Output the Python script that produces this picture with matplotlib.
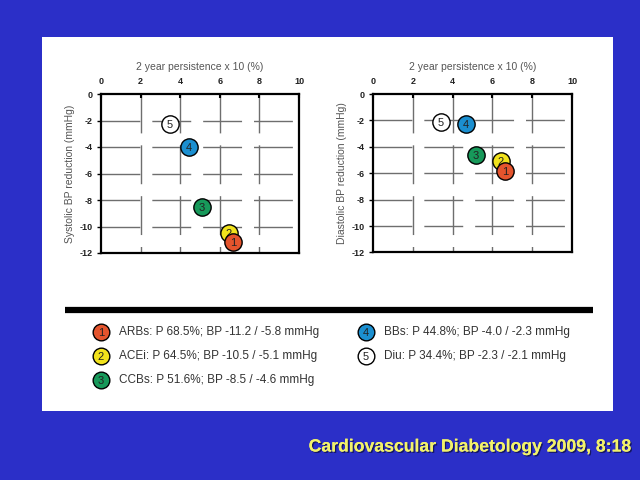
import matplotlib
matplotlib.use('Agg')
import matplotlib.pyplot as plt
from matplotlib.patches import Rectangle
from matplotlib.lines import Line2D
import matplotlib.patheffects as pe

plt.rcParams['font.family'] = ['Liberation Sans', 'DejaVu Sans']
plt.rcParams['lines.scale_dashes'] = False

# ---- data ----
numbers = ['1', '2', '3', '4', '5']
classes = ['ARBs', 'ACEi', 'CCBs', 'BBs', 'Diu']
persistence_pct = [68.5, 64.5, 51.6, 44.8, 34.4]
sbp = [-11.2, -10.5, -8.5, -4.0, -2.3]
dbp = [-5.8, -5.1, -4.6, -2.3, -2.1]
# plotted x positions (persistence x 10)
x_sys = [6.66, 6.46, 5.10, 4.43, 3.48]
x_dia = [6.63, 6.43, 5.18, 4.67, 3.42]
colors = ['#e4542d', '#f1e21c', '#17995a', '#1b8fd0', '#ffffff']
xticks = [0, 2, 4, 6, 8, 10]
yticks = [0, -2, -4, -6, -8, -10, -12]
grid_x = [2, 4, 6, 8]
grid_y = [-2, -4, -6, -8, -10]

W, H = 640, 480
fig = plt.figure(figsize=(6.4, 4.8), dpi=100, facecolor='#2b2fc8')

def fx(px):
    return px / W

def fy(py):
    return 1 - py / H

# white panel
fig.patches.append(Rectangle((fx(42), fy(411)), fx(613) - fx(42), fy(37) - fy(411),
                             transform=fig.transFigure, facecolor='white',
                             edgecolor='none', zorder=-5))

def make_axes(rect, xs, ys, ylabel):
    ax = fig.add_axes(rect)
    ax.set_zorder(2)
    ax.set_facecolor('white')
    for gx in grid_x:
        ax.plot([gx, gx], [0, -12], color='#6e6e6e', lw=1.0, dashes=(28, 8.6), zorder=1)
    for gy in grid_y:
        ax.plot([0, 10], [gy, gy], color='#6e6e6e', lw=1.0, dashes=(28, 8.6), zorder=1)
    n = len(xs)
    for i in range(n):
        z = 20 - 2 * i
        ax.scatter([xs[i]], [ys[i]], s=155, c=colors[i], edgecolors='black',
                   linewidths=1.0, zorder=z)
        ax.annotate(numbers[i], (xs[i], ys[i]), xytext=(0, -0.7), textcoords='offset points',
                    ha='center', va='center', fontsize=8, color='#222222', zorder=z + 0.5)
    ax.set_xlim(0, 10)
    ax.set_ylim(-12, 0)
    ax.xaxis.tick_top()
    ax.xaxis.set_label_position('top')
    ax.set_xticks(xticks)
    ax.set_xticklabels([str(t) for t in xticks], fontweight='bold', fontsize=6.5, color='#222222')
    ax.set_yticks(yticks)
    ax.set_yticklabels([str(t) for t in yticks], fontweight='bold', fontsize=6.5, color='#222222')
    ax.tick_params(axis='x', direction='in', length=3, width=1.5, pad=6)
    ax.tick_params(axis='y', direction='out', length=3, width=1.0, pad=3)
    ax.set_xlabel('2 year persistence x 10 (%)', fontsize=7.5, color='#555555', labelpad=5)
    ax.set_ylabel(ylabel, fontsize=7.5, color='#555555', labelpad=3)
    for s in ax.spines.values():
        s.set_linewidth(1.6)
        s.set_color('black')
    return ax

make_axes([fx(101), fy(253), fx(299) - fx(101), fy(94) - fy(253)], x_sys, sbp,
          'Systolic BP reduction (mmHg)')
make_axes([fx(373), fy(252.5), fx(572) - fx(373), fy(94) - fy(252.5)], x_dia, dbp,
          'Diastolic BP reduction (mmHg)')

# black separator bar
fig.add_artist(Line2D([fx(65), fx(593)], [fy(310), fy(310)], lw=4.5, color='black',
                      solid_capstyle='butt'))

# legend
legend_pos = [(101, 331.5), (101, 355.5), (101, 380), (366, 331.5), (366, 355.5)]
for i in range(5):
    cx, cy = legend_pos[i]
    fig.add_artist(Line2D([fx(cx)], [fy(cy)], marker='o', markersize=12,
                          markerfacecolor=colors[i], markeredgecolor='black',
                          markeredgewidth=1.0, linestyle='none'))
    fig.text(fx(cx), fy(cy + 1.0), numbers[i], ha='center', va='center', fontsize=8,
             color='#222222')
    label = '%s: P %.1f%%; BP %.1f / %.1f mmHg' % (classes[i], persistence_pct[i], sbp[i], dbp[i])
    fig.text(fx(cx + 18), fy(cy), label, ha='left', va='center', fontsize=8.5,
             color='#333333')

# footer
fig.text(fx(632), fy(447), 'Cardiovascular Diabetology 2009, 8:18', ha='right',
         va='center', fontsize=12.7, fontweight='bold', color='#f2f26a',
         path_effects=[pe.withSimplePatchShadow(offset=(1, -1), shadow_rgbFace='black', alpha=0.5),
                       pe.Normal()])

fig.savefig('out.png', dpi=100, facecolor=fig.get_facecolor())
